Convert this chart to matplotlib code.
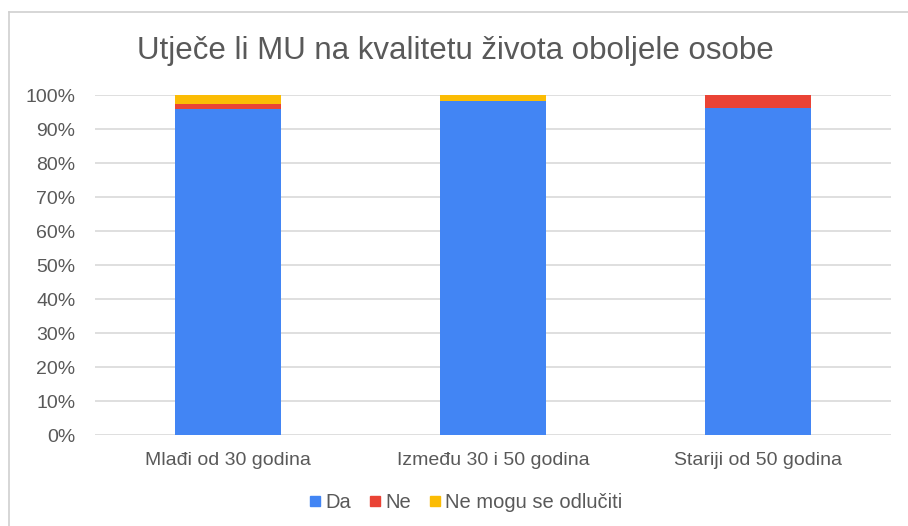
import matplotlib.pyplot as plt
from matplotlib.lines import Line2D
from matplotlib.ticker import PercentFormatter

plt.rcParams['font.family'] = ['Liberation Sans', 'DejaVu Sans']

# Data (percent of respondents per age group)
categories = ['Mlađi od 30 godina', 'Između 30 i 50 godina', 'Stariji od 50 godina']
da = [95.8, 98.2, 96.2]
ne = [1.6, 0.0, 3.8]
ne_mogu = [2.6, 1.8, 0.0]
series_names = ['Da', 'Ne', 'Ne mogu se odlučiti']
colors = ['#4285F4', '#EA4335', '#FBBC04']
text_color = '#595959'

fig = plt.figure(figsize=(9.08, 5.26), dpi=100)
ax = fig.add_axes([0.1046, 0.173, 0.8764, 0.646])

x = range(len(categories))
bottom = [0.0] * len(categories)
for vals, col in zip([da, ne, ne_mogu], colors):
    ax.bar(x, vals, width=0.4, bottom=bottom, color=col, zorder=3)
    bottom = [b + v for b, v in zip(bottom, vals)]

ax.set_xlim(-0.5, len(categories) - 0.5)
ax.set_ylim(0, 100)
ax.set_yticks(range(0, 101, 10))
ax.yaxis.set_major_formatter(PercentFormatter(decimals=0))
ax.set_xticks(list(x))
ax.set_xticklabels(categories)
ax.tick_params(axis='both', length=0, labelsize=14, colors=text_color)
ax.tick_params(axis='y', pad=14)
ax.tick_params(axis='x', pad=12)
ax.grid(axis='y', color='#d9d9d9', linewidth=1.2, zorder=0)
for s in ax.spines.values():
    s.set_visible(False)

fig.text(0.502, 0.887, 'Utječe li MU na kvalitetu života oboljele osobe',
         ha='center', va='baseline', fontsize=22.5, color=text_color)

handles = [Line2D([], [], marker='s', linestyle='none', color=c, markersize=7)
           for c in colors]
fig.legend(handles, series_names, loc='center', bbox_to_anchor=(0.513, 0.044),
           ncol=3, frameon=False, fontsize=14.5, handlelength=0.6,
           handletextpad=0.2, columnspacing=0.9, labelcolor=text_color)

# light frame around the chart
fig.add_artist(Line2D([0.0099, 0.0099], [0.0, 0.977], color='#d0d0d0', linewidth=1.2))
fig.add_artist(Line2D([0.0099, 1.0], [0.977, 0.977], color='#d0d0d0', linewidth=1.2))

fig.savefig('out.png', dpi=100)
